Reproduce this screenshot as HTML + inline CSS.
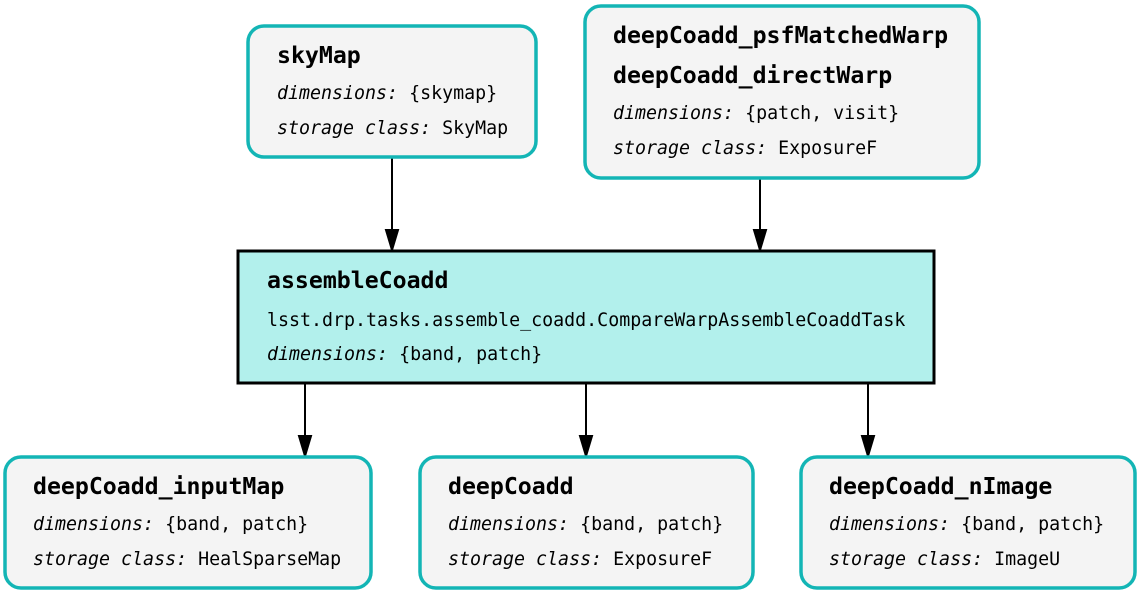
<!DOCTYPE html>
<html><head><meta charset="utf-8"><style>
html,body{margin:0;padding:0;background:#fff;}
svg{display:block;}
text{font-family:"DejaVu Sans Mono","Liberation Mono",monospace;fill:#000;}
.t{font-weight:bold;font-size:23.2px;}
.s{font-size:18.3px;}
.i{font-style:italic;}
.d{fill:#f4f4f4;stroke:#13b5b5;stroke-width:3.5;}
</style></head><body>
<svg width="1140" height="595" viewBox="0 0 1140 595">
<g stroke="#000" stroke-width="2" fill="none">
<line x1="392" y1="158" x2="392" y2="249"/><path d="M386,230 L398,230 L392,250 z" fill="#000"/>
<line x1="760" y1="179" x2="760" y2="249"/><path d="M754,230 L766,230 L760,250 z" fill="#000"/>
<line x1="305" y1="384" x2="305" y2="456"/><path d="M299,436 L311,436 L305,456 z" fill="#000"/>
<line x1="586" y1="384" x2="586" y2="456"/><path d="M580,436 L592,436 L586,456 z" fill="#000"/>
<line x1="868" y1="384" x2="868" y2="456"/><path d="M862,436 L874,436 L868,456 z" fill="#000"/>
</g>
<rect class="d" x="248" y="26" width="288" height="131" rx="16"/>
<text class="t" x="277" y="63">skyMap</text>
<text class="s" x="277" y="99"><tspan class="i">dimensions:</tspan> {skymap}</text>
<text class="s" x="277" y="134"><tspan class="i">storage class:</tspan> SkyMap</text>

<rect class="d" x="585" y="6" width="394" height="172" rx="16"/>
<text class="t" x="613" y="43">deepCoadd_psfMatchedWarp</text>
<text class="t" x="613" y="83">deepCoadd_directWarp</text>
<text class="s" x="613" y="119"><tspan class="i">dimensions:</tspan> {patch, visit}</text>
<text class="s" x="613" y="154"><tspan class="i">storage class:</tspan> ExposureF</text>

<rect x="238" y="251" width="696" height="132" fill="#b2f0ec" stroke="#000" stroke-width="3"/>
<text class="t" x="267" y="288">assembleCoadd</text>
<text class="s" x="267" y="326">lsst.drp.tasks.assemble_coadd.CompareWarpAssembleCoaddTask</text>
<text class="s" x="267" y="360"><tspan class="i">dimensions:</tspan> {band, patch}</text>

<rect class="d" x="5" y="457" width="366" height="131" rx="16"/>
<text class="t" x="33" y="494">deepCoadd_inputMap</text>
<text class="s" x="33" y="530"><tspan class="i">dimensions:</tspan> {band, patch}</text>
<text class="s" x="33" y="565"><tspan class="i">storage class:</tspan> HealSparseMap</text>

<rect class="d" x="420" y="457" width="333" height="131" rx="16"/>
<text class="t" x="448" y="494">deepCoadd</text>
<text class="s" x="448" y="530"><tspan class="i">dimensions:</tspan> {band, patch}</text>
<text class="s" x="448" y="565"><tspan class="i">storage class:</tspan> ExposureF</text>

<rect class="d" x="801" y="457" width="334" height="131" rx="16"/>
<text class="t" x="829" y="494">deepCoadd_nImage</text>
<text class="s" x="829" y="530"><tspan class="i">dimensions:</tspan> {band, patch}</text>
<text class="s" x="829" y="565"><tspan class="i">storage class:</tspan> ImageU</text>
</svg>
</body></html>
